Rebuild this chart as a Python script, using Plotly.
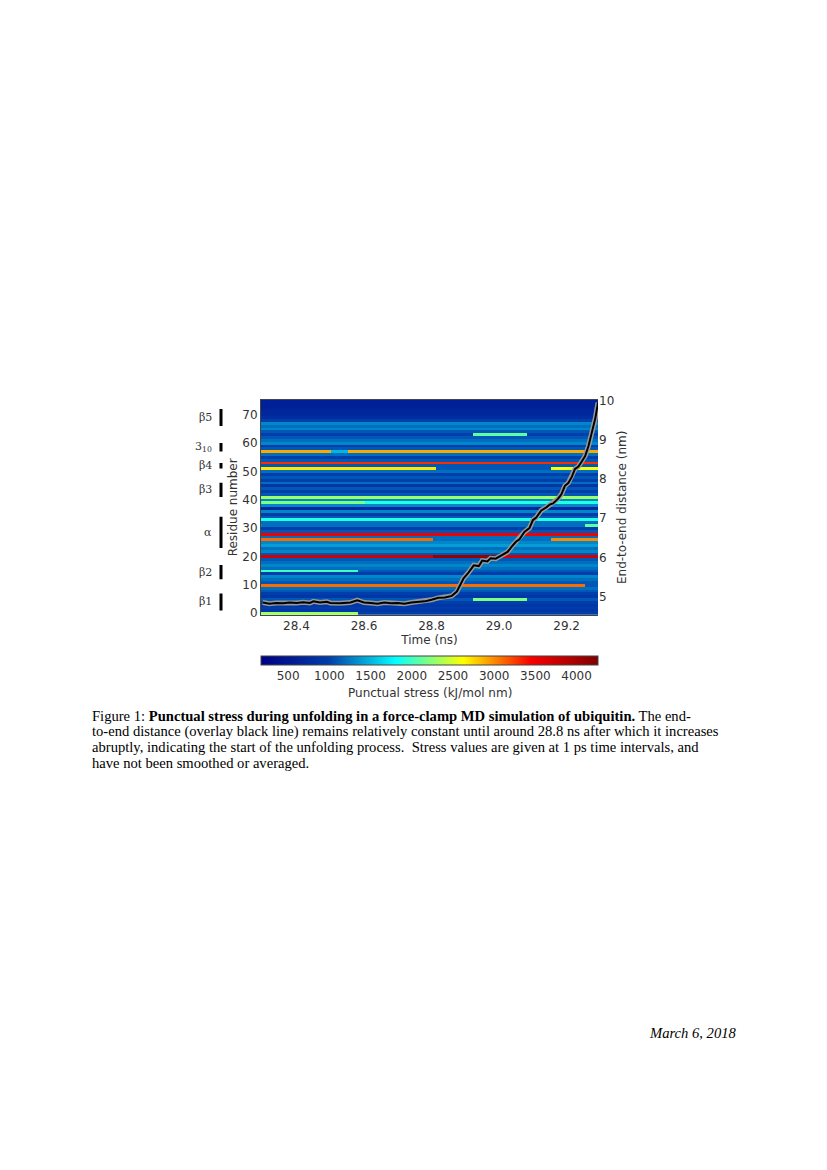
import numpy as np
import plotly.graph_objects as go

# residues 0..75, baseline punctual stress (kJ/mol nm)
residues = list(range(76))
base_stress = [2300, 900, 1000, 900, 1000, 1100, 900, 1000, 1100, 1200,
               3100, 1100, 1200, 1300, 1000, 2000, 1200, 1300, 1200, 1100,
               3700, 1100, 1300, 1200, 1400, 1300, 3100, 1200, 3500, 1100,
               1000, 1300, 1200, 1900, 1100, 1000, 1300, 700, 1300, 1900,
               1300, 2300, 1100, 1000, 1100, 900, 1200, 1000, 1100, 1000,
               1200, 2700, 1100, 3300, 1100, 1000, 1200, 2900, 1100, 1000,
               1300, 1200, 1100, 1000, 1100, 1300, 1200, 1300, 1000, 800,
               700, 700, 650, 600, 600, 600]

# segments that differ from baseline: (residue, t_start, t_end, stress)
seg_res = [0, 15, 51, 51, 26, 26, 20, 10, 5, 63, 39, 31, 31, 57]
seg_t0 = [28.58, 28.58, 28.81, 29.15, 28.80, 29.15, 28.80, 29.25, 28.92, 28.92, 28.30, 29.25, 28.30, 28.50]
seg_t1 = [29.30, 29.30, 29.15, 29.30, 29.15, 29.30, 29.00, 29.30, 29.08, 29.08, 28.60, 29.30, 29.25, 28.55]
seg_val = [1000, 1100, 1100, 2600, 1200, 3000, 4100, 1100, 2200, 2100, 2200, 2100, 1200, 1500]

# end-to-end distance (nm) vs time (ns)
e2e_t = [28.30, 28.32, 28.34, 28.36, 28.38, 28.40, 28.42, 28.44, 28.45, 28.47, 28.49, 28.50,
         28.53, 28.56, 28.58, 28.60, 28.62, 28.64, 28.66, 28.68, 28.70, 28.72, 28.74, 28.76,
         28.78, 28.80, 28.82, 28.84, 28.86, 28.875, 28.885, 28.895, 28.91, 28.925, 28.94, 28.95,
         28.965, 28.975, 28.99, 29.00, 29.015, 29.025, 29.04, 29.05, 29.06, 29.075, 29.09, 29.10,
         29.11, 29.125, 29.14, 29.15, 29.16, 29.175, 29.185, 29.195,
         29.205, 29.215, 29.225, 29.235, 29.245, 29.255, 29.265, 29.275, 29.285, 29.293]
e2e_d = [4.85, 4.82, 4.84, 4.83, 4.85, 4.84, 4.86, 4.84, 4.88, 4.85, 4.87, 4.84,
         4.83, 4.85, 4.91, 4.85, 4.84, 4.82, 4.85, 4.83, 4.84, 4.82, 4.85, 4.87,
         4.88, 4.92, 4.97, 4.98, 5.02, 5.13, 5.32, 5.47, 5.62, 5.80, 5.78, 5.92,
         5.90, 5.98, 5.97, 6.02, 6.08, 6.14, 6.30, 6.40, 6.46, 6.65, 6.75, 6.95,
         7.02, 7.20, 7.28, 7.35, 7.38, 7.50, 7.62, 7.83,
         7.90, 8.05, 8.26, 8.32, 8.45, 8.59, 8.85, 9.18, 9.55, 9.95]

ss_labels = ["β5", "3<sub>10</sub>", "β4", "β3", "α", "β2", "β1"]
ss_start = [66, 57, 51, 41, 23, 12, 1]
ss_end = [72, 60, 53, 46, 34, 17, 7]

caption = [
    "Figure 1: <b>Punctual stress during unfolding in a force-clamp MD simulation of ubiquitin.</b> The end-",
    "to-end distance (overlay black line) remains relatively constant until around 28.8 ns after which it increases",
    "abruptly, indicating the start of the unfolding process.  Stress values are given at 1 ps time intervals, and",
    "have not been smoothed or averaged.",
]

times = np.arange(28.295, 29.295, 0.005)
z = np.array([[b] * len(times) for b in base_stress], dtype=float)
for r, t0, t1, v in zip(seg_res, seg_t0, seg_t1, seg_val):
    z[r, (times >= t0) & (times < t1)] = v

# page has an 8px body margin, so layout is given in page pixels minus 8
OFF = 8
W, H = 827 - 2 * OFF, 1170 - 2 * OFF
px = lambda v: (v - OFF) / W
py = lambda v: 1 - (v - OFF) / H
x0, x1, ytop, ybot = 261, 598, 398, 615
font = dict(family="DejaVu Sans", size=12, color="#333")

fig = go.Figure()
fig.add_trace(go.Heatmap(
    x=times, y=residues, z=z, colorscale="Jet", zmin=170, zmax=4260,
    colorbar=dict(orientation="h", x=(px(x0) + px(x1)) / 2, xanchor="center",
                  y=py(657), yanchor="top", len=(x1 - x0) / W, xpad=0, ypad=0,
                  thickness=9, outlinewidth=1, outlinecolor="#444",
                  tickvals=[500, 1000, 1500, 2000, 2500, 3000, 3500, 4000],
                  tickfont=font, ticks=""),
))
fig.add_trace(go.Scatter(x=e2e_t, y=e2e_d, yaxis="y2", mode="lines",
                         line=dict(color="#999", width=5), hoverinfo="skip"))
fig.add_trace(go.Scatter(x=e2e_t, y=e2e_d, yaxis="y2", mode="lines",
                         line=dict(color="black", width=2)))

fig.update_layout(
    width=W, height=H, margin=dict(l=0, r=0, t=0, b=0),
    paper_bgcolor="white", plot_bgcolor="white", showlegend=False,
    xaxis=dict(domain=[px(x0), px(x1)], range=[28.295, 29.293],
               tickvals=[28.4, 28.6, 28.8, 29.0, 29.2], ticktext=["28.4", "28.6", "28.8", "29.0", "29.2"],
               tickfont=font, ticks="", showgrid=False, zeroline=False,
               title=dict(text="Time (ns)", font=font, standoff=2),
               showline=True, linecolor="#444", mirror=True),
    yaxis=dict(domain=[py(ybot), py(ytop)], range=[-0.5, 75.2],
               tickvals=[0, 10, 20, 30, 40, 50, 60, 70], tickfont=font, ticks="",
               showgrid=False, zeroline=False,
               title=dict(text="Residue number", font=font, standoff=2),
               showline=True, linecolor="#444"),
    yaxis2=dict(overlaying="y", side="right", anchor="x", range=[4.54, 10.02],
                tickvals=[5, 6, 7, 8, 9, 10], tickfont=font, ticks="",
                showgrid=False, zeroline=False,
                title=dict(text="End-to-end distance (nm)", font=font, standoff=4)),
)

for lab, s, e in zip(ss_labels, ss_start, ss_end):
    fig.add_shape(type="line", xref="paper", yref="y", x0=px(221), x1=px(221),
                  y0=s, y1=e, line=dict(color="black", width=3))
    fig.add_annotation(text=lab, xref="paper", yref="y", x=px(214), y=(s + e) / 2,
                       xanchor="right", showarrow=False,
                       font=dict(family="DejaVu Serif", size=11, color="#333"))

fig.add_annotation(text="Punctual stress (kJ/mol nm)", xref="paper", yref="paper",
                   x=(px(x0) + px(x1)) / 2, y=py(694), showarrow=False, font=font)

serif = dict(family="Liberation Serif", size=14.6, color="black")
for i, line in enumerate(caption):
    fig.add_annotation(text=line, xref="paper", yref="paper", x=px(90),
                       y=py(717 + 16 * i), xanchor="left", yanchor="middle",
                       showarrow=False, font=serif)
fig.add_annotation(text="<i>March 6, 2018</i>", xref="paper", yref="paper",
                   x=px(738), y=py(1038), xanchor="right", yanchor="middle",
                   showarrow=False, font=serif)

fig.write_html("out.html")
